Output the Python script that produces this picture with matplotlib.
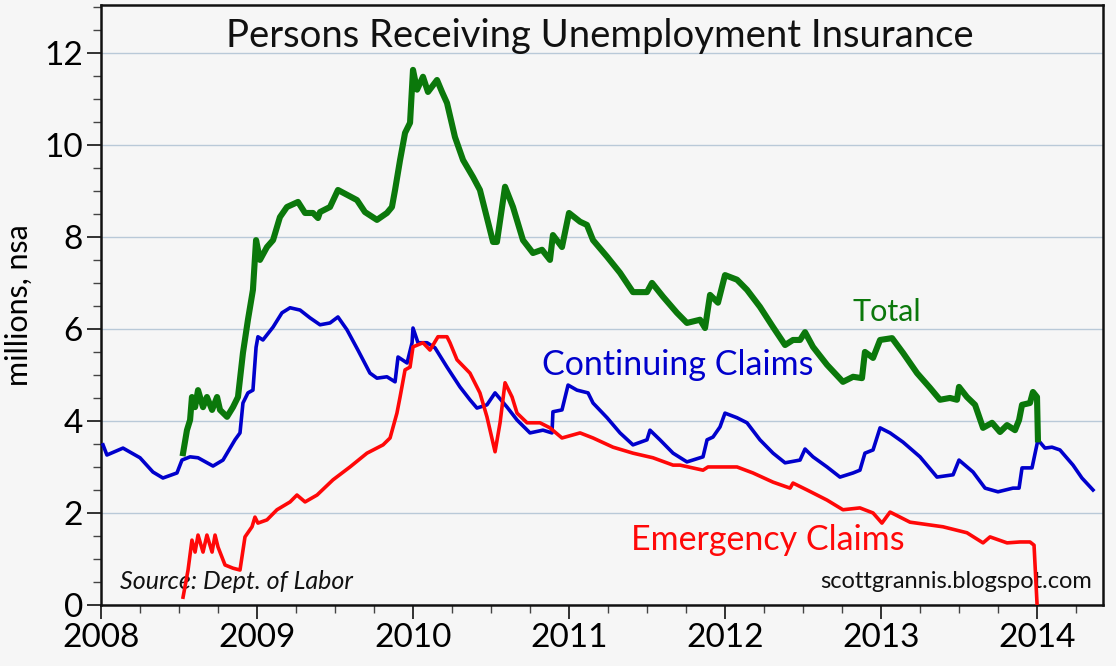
import matplotlib
matplotlib.use("Agg")
import matplotlib.pyplot as plt
from matplotlib.ticker import MultipleLocator

# ---- data (decimal years, millions) ----
cont_t = [2008.013, 2008.038, 2008.141, 2008.25, 2008.333, 2008.397, 2008.487, 2008.519, 2008.571, 2008.622,
          2008.718, 2008.782, 2008.859, 2008.891, 2008.910, 2008.942, 2008.974, 2008.994, 2009.006, 2009.038,
          2009.103, 2009.160, 2009.212, 2009.276, 2009.340, 2009.404, 2009.468, 2009.519, 2009.577, 2009.647,
          2009.724, 2009.769, 2009.833, 2009.885, 2009.904, 2009.962, 2009.994, 2010.0, 2010.032, 2010.09,
          2010.141, 2010.218, 2010.301, 2010.365, 2010.41, 2010.474, 2010.526, 2010.603, 2010.667, 2010.75,
          2010.833, 2010.891, 2010.897, 2010.955, 2010.994, 2011.051, 2011.122, 2011.154, 2011.244, 2011.327,
          2011.41, 2011.5, 2011.519, 2011.583, 2011.667, 2011.756, 2011.859, 2011.885, 2011.923, 2011.968,
          2012.0, 2012.077, 2012.141, 2012.224, 2012.308, 2012.385, 2012.481, 2012.513, 2012.564, 2012.654,
          2012.737, 2012.821, 2012.865, 2012.897, 2012.949, 2012.994, 2013.058, 2013.141, 2013.25, 2013.359,
          2013.462, 2013.5, 2013.59, 2013.667, 2013.75, 2013.846, 2013.885, 2013.904, 2013.968, 2014.006,
          2014.051, 2014.096, 2014.147, 2014.231, 2014.288, 2014.359]
cont_v = [3.48, 3.26, 3.41, 3.2, 2.89, 2.76, 2.87, 3.15, 3.22, 3.2,
          3.02, 3.15, 3.59, 3.74, 4.39, 4.61, 4.67, 5.6, 5.83, 5.76,
          6.04, 6.35, 6.46, 6.41, 6.24, 6.09, 6.13, 6.26, 5.98, 5.54,
          5.04, 4.93, 4.96, 4.85, 5.39, 5.26, 5.7, 6.02, 5.7, 5.7,
          5.59, 5.17, 4.74, 4.46, 4.28, 4.35, 4.61, 4.3, 4.02, 3.74,
          3.8, 3.74, 4.2, 4.24, 4.78, 4.67, 4.61, 4.39, 4.07, 3.74,
          3.48, 3.59, 3.8, 3.59, 3.3, 3.11, 3.22, 3.59, 3.65, 3.87,
          4.17, 4.07, 3.96, 3.59, 3.3, 3.09, 3.15, 3.39, 3.22, 3.0,
          2.78, 2.87, 2.93, 3.3, 3.37, 3.85, 3.74, 3.54, 3.22, 2.78,
          2.83, 3.15, 2.89, 2.54, 2.46, 2.54, 2.54, 2.98, 2.98, 3.59,
          3.41, 3.43, 3.37, 3.04, 2.76, 2.5]

total_t = [2008.526, 2008.551, 2008.571, 2008.583, 2008.603, 2008.622, 2008.654, 2008.679, 2008.712, 2008.744,
           2008.763, 2008.808, 2008.846, 2008.878, 2008.910, 2008.942, 2008.974, 2008.994, 2009.019, 2009.064,
           2009.103, 2009.147, 2009.192, 2009.263, 2009.308, 2009.359, 2009.391, 2009.404, 2009.468, 2009.519,
           2009.641, 2009.692, 2009.769, 2009.833, 2009.865, 2009.885, 2009.917, 2009.949, 2009.981, 2010.0,
           2010.026, 2010.064, 2010.096, 2010.154, 2010.186, 2010.218, 2010.269, 2010.321, 2010.385, 2010.429,
           2010.513, 2010.538, 2010.59, 2010.641, 2010.705, 2010.769, 2010.827, 2010.878, 2010.897, 2010.955,
           2011.0, 2011.071, 2011.115, 2011.154, 2011.244, 2011.327, 2011.41, 2011.5, 2011.532, 2011.603,
           2011.692, 2011.756, 2011.84, 2011.872, 2011.904, 2011.955, 2012.0, 2012.077, 2012.141, 2012.224,
           2012.308, 2012.385, 2012.436, 2012.481, 2012.513, 2012.564, 2012.654, 2012.756, 2012.821, 2012.878,
           2012.897, 2012.949, 2012.994, 2013.071, 2013.141, 2013.231, 2013.314, 2013.378, 2013.442, 2013.487,
           2013.5, 2013.551, 2013.603, 2013.654, 2013.712, 2013.763, 2013.808, 2013.859, 2013.885, 2013.904,
           2013.955, 2013.974, 2014.0, 2014.006]
total_v = [3.3, 3.8, 4.02, 4.52, 4.3, 4.67, 4.3, 4.52, 4.24, 4.52,
           4.24, 4.09, 4.3, 4.52, 5.48, 6.2, 6.85, 7.93, 7.5, 7.78,
           7.93, 8.43, 8.65, 8.76, 8.52, 8.52, 8.41, 8.54, 8.65, 9.02,
           8.8, 8.54, 8.37, 8.52, 8.65, 9.02, 9.67, 10.26, 10.48, 11.63,
           11.2, 11.48, 11.15, 11.41, 11.15, 10.91, 10.17, 9.67, 9.3, 9.02,
           7.89, 7.89, 9.09, 8.65, 7.93, 7.65, 7.72, 7.5, 8.04, 7.78,
           8.52, 8.33, 8.26, 7.93, 7.57, 7.22, 6.8, 6.8, 7.0, 6.7,
           6.35, 6.13, 6.2, 6.02, 6.74, 6.57, 7.17, 7.07, 6.85, 6.48,
           6.04, 5.65, 5.76, 5.76, 5.93, 5.61, 5.22, 4.85, 4.96, 4.93,
           5.5, 5.37, 5.76, 5.8, 5.48, 5.04, 4.72, 4.46, 4.5, 4.46,
           4.74, 4.52, 4.35, 3.85, 3.96, 3.76, 3.91, 3.8, 4.02, 4.35,
           4.39, 4.63, 4.52, 3.6]

emerg_t = [2008.526, 2008.558, 2008.583, 2008.603, 2008.622, 2008.654, 2008.679, 2008.712, 2008.731, 2008.75,
           2008.795, 2008.846, 2008.891, 2008.923, 2008.968, 2008.987, 2009.006, 2009.064, 2009.128, 2009.212,
           2009.256, 2009.308, 2009.385, 2009.487, 2009.596, 2009.705, 2009.808, 2009.853, 2009.897, 2009.917,
           2009.949, 2009.981, 2010.0, 2010.064, 2010.109, 2010.160, 2010.218, 2010.237, 2010.282, 2010.365,
           2010.429, 2010.474, 2010.526, 2010.558, 2010.59, 2010.635, 2010.667, 2010.731, 2010.814, 2010.878,
           2010.955, 2011.071, 2011.154, 2011.282, 2011.41, 2011.538, 2011.667, 2011.712, 2011.859, 2011.891,
           2012.013, 2012.077, 2012.179, 2012.308, 2012.417, 2012.436, 2012.526, 2012.654, 2012.756, 2012.865,
           2012.949, 2013.006, 2013.058, 2013.186, 2013.397, 2013.551, 2013.654, 2013.699, 2013.808, 2013.891,
           2013.955, 2013.981, 2014.0]
emerg_v = [0.17, 0.76, 1.41, 1.15, 1.52, 1.15, 1.52, 1.15, 1.52, 1.26,
           0.87, 0.8, 0.76, 1.48, 1.7, 1.91, 1.78, 1.85, 2.07, 2.24,
           2.39, 2.24, 2.39, 2.72, 3.0, 3.3, 3.48, 3.63, 4.17, 4.52,
           5.11, 5.17, 5.61, 5.7, 5.54, 5.83, 5.83, 5.7, 5.33, 5.04,
           4.61, 4.09, 3.33, 3.96, 4.83, 4.52, 4.17, 3.96, 3.96, 3.85,
           3.63, 3.74, 3.63, 3.43, 3.3, 3.2, 3.04, 3.04, 2.93, 3.0,
           3.0, 3.0, 2.87, 2.67, 2.54, 2.65, 2.5, 2.28, 2.07, 2.11,
           2.0, 1.78, 2.02, 1.8, 1.7, 1.57, 1.35, 1.48, 1.35, 1.37,
           1.37, 1.3, 0.04]

year_ticks = [2008, 2009, 2010, 2011, 2012, 2013, 2014]
y_ticks = [0, 2, 4, 6, 8, 10, 12]

FONT = ["Lato", "DejaVu Sans"]
plt.rcParams["font.family"] = FONT

BG = "#f6f6f6"
GREEN = "#0b780b"
BLUE = "#0000cc"
RED = "#ff0808"

fig = plt.figure(figsize=(11.16, 6.66), dpi=100, facecolor=BG)
ax = fig.add_axes([101 / 1116, 61 / 666, 1002 / 1116, 600 / 666])
ax.set_facecolor(BG)

ax.plot(cont_t, cont_v, color=BLUE, lw=2.6, zorder=3, solid_joinstyle="round")
ax.plot(emerg_t, emerg_v, color=RED, lw=2.6, zorder=4, solid_joinstyle="round")
ax.plot(total_t, total_v, color=GREEN, lw=4.4, zorder=5, solid_joinstyle="round")

ax.set_xlim(2008, 2008 + 1002 / 156)
ax.set_ylim(0, 13.04)
ax.set_xticks(year_ticks)
ax.set_xticklabels([str(y) for y in year_ticks])
ax.set_yticks(y_ticks)
ax.set_yticklabels([str(v) for v in y_ticks])
ax.xaxis.set_minor_locator(MultipleLocator(0.25))
ax.yaxis.set_minor_locator(MultipleLocator(0.5))
ax.grid(axis="y", which="major", color="#b9c9d8", lw=1.0, zorder=1)
ax.tick_params(axis="both", which="major", direction="out", length=10, width=1.3,
               labelsize=24, color="#222222", pad=3)
ax.tick_params(axis="both", which="minor", direction="out", length=6, width=1.0, color="#444444")
for s in ax.spines.values():
    s.set_linewidth(1.8)
    s.set_color("#111111")

ax.set_ylabel("millions, nsa", fontsize=22, labelpad=8)

fig.text(600 / 1116, 1 - 36 / 666, "Persons Receiving Unemployment Insurance",
         ha="center", va="center", fontsize=27.5, color="#111111")

ax.text(2010.83, 5.22, "Continuing Claims", color=BLUE, fontsize=24.5, va="center", ha="left")
ax.text(2012.82, 6.37, "Total", color=GREEN, fontsize=22, va="center", ha="left")
ax.text(2011.40, 1.41, "Emergency Claims", color=RED, fontsize=24.5, va="center", ha="left")
ax.text(2008.12, 0.5, "Source: Dept. of Labor", color="#111111", fontsize=18,
        style="italic", va="center", ha="left")
ax.text(2014.35, 0.5, "scottgrannis.blogspot.com", color="#111111", fontsize=17,
        va="center", ha="right")

fig.savefig("out.png", dpi=100, facecolor=BG)
